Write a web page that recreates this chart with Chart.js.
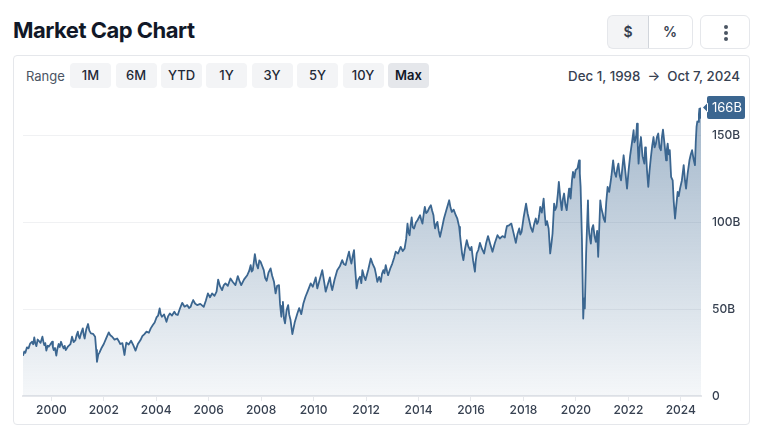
<!DOCTYPE html>
<html>
<head>
<meta charset="utf-8">
<title>Market Cap Chart</title>
<script src="https://cdn.jsdelivr.net/npm/chart.js@4"></script>
<style>
    html, body { margin: 0; padding: 0; background: #fff; }
    body { width: 760px; height: 445px; position: relative; overflow: hidden; font-family: Inter, sans-serif; color: #111827; }
    .abs { position: absolute; box-sizing: border-box; }
    h1 { position: absolute; left: 13px; top: 16px; margin: 0; font-size: 22px; line-height: 28px; font-weight: 700; letter-spacing: -0.5px; }
    .card { left: 13px; top: 55px; width: 737px; height: 370px; border: 1px solid #e5e7eb; border-radius: 4px; }
    .range-label { left: 26px; top: 68px; font-size: 13px; line-height: 16px; color: #4b5563; }
    .btn { top: 63px; height: 25px; width: 41px; border-radius: 4px; background: #f3f4f6; font-size: 13px; line-height: 25px; font-weight: 500; text-align: center; color: #1f2937; }
    .btn.on { background: #e5e7eb; color: #111827; font-weight: 600; }
    .dates { left: 540px; width: 200px; top: 68px; font-size: 13.3px; line-height: 16px; font-weight: 500; color: #374151; text-align: right; white-space: pre; }
    .toggle { top: 15px; height: 34px; border: 1px solid #e5e7eb; font-size: 14px; line-height: 32px; font-weight: 600; text-align: center; color: #374151; }
    #dollar { left: 607px; width: 42px; background: #f3f4f6; border-radius: 6px 0 0 6px; border-right-color: #d1d5db; }
    #percent { left: 648px; width: 45px; border-left: none; border-radius: 0 6px 6px 0; }
    #more { left: 700px; width: 50px; border-radius: 6px; }
    .dot { position: absolute; left: 23px; width: 4px; height: 4px; border-radius: 50%; background: #4b5563; }
    #chartWrap { position: absolute; left: 14px; top: 92px; width: 735px; height: 330px; }
</style>
</head>
<body>
<h1>Market Cap Chart</h1>
<div class="abs toggle" id="dollar">$</div>
<div class="abs toggle" id="percent">%</div>
<div class="abs toggle" id="more"><span class="dot" style="top:9px"></span><span class="dot" style="top:15px"></span><span class="dot" style="top:21px"></span></div>
<div class="abs card"></div>
<div class="abs range-label">Range</div>
<div id="rangeButtons"></div>
<div class="abs dates">Dec 1, 1998  →  Oct 7, 2024</div>
<div id="chartWrap"><canvas id="marketCap"></canvas></div>

<script>
// Values: decimal year, market cap in billions
const years = [
    1998.92, 1998.97, 1999.01, 1999.07, 1999.13, 1999.19, 1999.26, 1999.31, 1999.35, 1999.39, 1999.43, 1999.48, 1999.52, 1999.59, 1999.66, 1999.70, 1999.73, 1999.77, 1999.81, 1999.86, 1999.90, 1999.96,
    2000.03, 2000.06, 2000.09, 2000.14, 2000.19, 2000.23, 2000.28, 2000.32, 2000.37, 2000.42, 2000.47, 2000.51, 2000.55, 2000.64, 2000.73, 2000.76, 2000.79, 2000.85, 2000.92, 2000.96,
    2001.01, 2001.04, 2001.08, 2001.14, 2001.20, 2001.23, 2001.27, 2001.33, 2001.40, 2001.45, 2001.51, 2001.59, 2001.67, 2001.71, 2001.74, 2001.79, 2001.84, 2001.92,
    2002.00, 2002.09, 2002.19, 2002.25, 2002.32, 2002.41, 2002.51, 2002.57, 2002.63, 2002.71, 2002.79, 2002.83, 2002.86, 2002.95,
    2003.04, 2003.12, 2003.21, 2003.30, 2003.40, 2003.47, 2003.55, 2003.63, 2003.72, 2003.79, 2003.87, 2003.94,
    2004.01, 2004.07, 2004.13, 2004.17, 2004.22, 2004.30, 2004.39, 2004.45, 2004.52, 2004.60, 2004.69, 2004.75, 2004.82, 2004.90, 2004.99,
    2005.08, 2005.18, 2005.25, 2005.31, 2005.36, 2005.41, 2005.48, 2005.56, 2005.68, 2005.81, 2005.89, 2005.97,
    2006.05, 2006.13, 2006.22, 2006.30, 2006.36, 2006.43, 2006.51, 2006.57, 2006.64, 2006.73, 2006.83, 2006.92,
    2007.02, 2007.06, 2007.11, 2007.18, 2007.24, 2007.35, 2007.47, 2007.54, 2007.60, 2007.64, 2007.68, 2007.72, 2007.76, 2007.82, 2007.88, 2007.93, 2007.98,
    2008.04, 2008.10, 2008.15, 2008.21, 2008.28, 2008.36, 2008.42, 2008.49, 2008.55, 2008.61, 2008.68, 2008.72, 2008.77, 2008.80, 2008.83, 2008.87, 2008.91, 2008.97,
    2009.03, 2009.07, 2009.12, 2009.19, 2009.28, 2009.38, 2009.45, 2009.53, 2009.61, 2009.69, 2009.78, 2009.89, 2009.97,
    2010.08, 2010.14, 2010.24, 2010.33, 2010.40, 2010.46, 2010.54, 2010.62, 2010.67, 2010.71, 2010.80, 2010.90,
    2011.00, 2011.09, 2011.15, 2011.22, 2011.29, 2011.35, 2011.40, 2011.44, 2011.49, 2011.54, 2011.59, 2011.64, 2011.70, 2011.77, 2011.82, 2011.86, 2011.92, 2011.98,
    2012.08, 2012.18, 2012.25, 2012.33, 2012.38, 2012.43, 2012.50, 2012.56, 2012.61, 2012.66, 2012.70, 2012.75, 2012.80, 2012.84, 2012.92,
    2013.00, 2013.07, 2013.13, 2013.22, 2013.32, 2013.40, 2013.47, 2013.53, 2013.58, 2013.62, 2013.66, 2013.70, 2013.74, 2013.78, 2013.83, 2013.90, 2013.96,
    2014.06, 2014.10, 2014.15, 2014.20, 2014.24, 2014.29, 2014.34, 2014.40, 2014.47, 2014.52, 2014.57, 2014.60, 2014.63, 2014.68, 2014.72, 2014.77, 2014.82, 2014.90, 2014.97,
    2015.07, 2015.17, 2015.22, 2015.27, 2015.34, 2015.42, 2015.48, 2015.55, 2015.58, 2015.61, 2015.66, 2015.71, 2015.77, 2015.84, 2015.90, 2015.97,
    2016.02, 2016.08, 2016.15, 2016.18, 2016.22, 2016.28, 2016.34, 2016.42, 2016.50, 2016.57, 2016.65, 2016.73, 2016.82, 2016.91,
    2017.01, 2017.10, 2017.20, 2017.29, 2017.33, 2017.37, 2017.45, 2017.54, 2017.62, 2017.71, 2017.77, 2017.84, 2017.88, 2017.93, 2018.01,
    2018.10, 2018.16, 2018.22, 2018.28, 2018.35, 2018.41, 2018.47, 2018.52, 2018.56, 2018.60, 2018.64, 2018.70, 2018.77, 2018.81, 2018.85, 2018.90, 2018.96,
    2019.02, 2019.07, 2019.11, 2019.14, 2019.17, 2019.21, 2019.26, 2019.31, 2019.35, 2019.41, 2019.46, 2019.50, 2019.55, 2019.60, 2019.65, 2019.70, 2019.74, 2019.77, 2019.80, 2019.85, 2019.89, 2019.94, 2019.99,
    2020.06, 2020.12, 2020.15, 2020.18, 2020.23, 2020.28, 2020.31, 2020.34, 2020.39, 2020.46, 2020.48, 2020.51, 2020.57, 2020.61, 2020.66, 2020.71, 2020.76, 2020.81, 2020.85, 2020.93, 2020.97,
    2021.02, 2021.06, 2021.11, 2021.16, 2021.21, 2021.27, 2021.35, 2021.42, 2021.47, 2021.53, 2021.58, 2021.62, 2021.67, 2021.72, 2021.77, 2021.82, 2021.88, 2021.95, 2022.01,
    2022.07, 2022.14, 2022.20, 2022.23, 2022.26, 2022.30, 2022.33, 2022.36, 2022.39, 2022.43, 2022.48, 2022.54, 2022.61, 2022.64, 2022.67, 2022.71, 2022.76, 2022.81, 2022.86, 2022.91, 2022.96,
    2023.00, 2023.05, 2023.09, 2023.14, 2023.19, 2023.24, 2023.28, 2023.32, 2023.38, 2023.44, 2023.47, 2023.50, 2023.54, 2023.58, 2023.63, 2023.69, 2023.73, 2023.78, 2023.83, 2023.88, 2023.92, 2023.97,
    2024.04, 2024.11, 2024.16, 2024.20, 2024.26, 2024.33, 2024.38, 2024.43, 2024.49, 2024.54, 2024.57, 2024.60, 2024.63, 2024.66, 2024.69, 2024.71, 2024.74, 2024.77
];
const marketCap = [
    23.2, 25.6, 24.9, 28.0, 27.4, 30.1, 31.2, 29.8, 33.7, 30.2, 28.7, 32.5, 31.8, 30.6, 34.1, 31.0, 29.3, 30.4, 26.1, 28.9, 28.4, 29.6,
    31.2, 28.0, 26.4, 27.6, 23.2, 27.1, 29.9, 28.2, 31.2, 29.0, 27.4, 28.8, 26.4, 28.6, 29.9, 31.9, 34.1, 31.0, 32.2, 34.9,
    37.0, 34.3, 33.1, 36.4, 38.9, 35.6, 33.1, 38.2, 41.4, 37.6, 36.0, 35.8, 34.1, 26.5, 19.7, 23.8, 25.1, 27.8,
    29.9, 33.2, 36.6, 34.9, 34.1, 32.4, 33.1, 31.6, 29.9, 30.4, 23.6, 28.0, 30.7, 29.6,
    31.8, 29.4, 26.1, 29.9, 32.2, 34.4, 35.6, 37.0, 36.4, 38.9, 40.8, 42.3,
    45.2, 46.2, 50.4, 47.0, 45.6, 46.9, 42.7, 45.8, 47.5, 46.3, 48.5, 47.0, 46.6, 50.2, 53.6,
    51.4, 52.3, 50.6, 51.3, 53.5, 55.2, 53.2, 52.3, 53.0, 51.3, 54.8, 59.0,
    56.8, 59.0, 57.6, 60.0, 67.0, 63.2, 60.9, 63.6, 64.8, 63.4, 67.6, 65.6,
    63.8, 66.2, 69.0, 65.9, 63.8, 67.1, 69.5, 71.8, 75.3, 71.6, 72.4, 76.9, 81.6, 76.0, 73.4, 78.0, 77.2,
    74.8, 72.4, 68.0, 66.3, 71.0, 73.4, 69.2, 65.7, 59.0, 63.4, 63.8, 53.0, 45.6, 52.0, 54.2, 44.5, 41.8, 49.4,
    52.3, 46.8, 43.7, 35.6, 42.4, 47.5, 50.6, 47.1, 53.2, 57.1, 60.5, 64.8, 62.8,
    68.2, 61.9, 67.4, 72.4, 66.0, 60.0, 64.2, 68.2, 63.4, 60.9, 67.0, 72.4,
    74.6, 78.2, 76.0, 75.3, 79.6, 83.0, 78.6, 76.2, 80.4, 83.9, 72.0, 61.9, 66.8, 68.6, 64.9, 72.4, 69.0, 66.7,
    72.5, 79.1, 76.0, 73.4, 69.8, 65.7, 68.5, 65.7, 70.4, 72.4, 70.6, 75.3, 71.8, 69.5, 73.2,
    76.2, 79.6, 83.0, 82.0, 85.8, 83.4, 84.9, 90.5, 99.2, 94.0, 92.5, 98.6, 102.7, 97.0, 96.4, 99.8, 101.1,
    104.0, 101.6, 99.2, 105.0, 108.8, 105.2, 105.9, 108.0, 109.8, 106.6, 104.0, 99.4, 96.4, 99.0, 100.2, 95.0, 91.6, 97.0, 102.1,
    107.5, 112.6, 108.4, 105.9, 107.2, 104.0, 102.0, 97.3, 93.0, 88.7, 82.0, 78.2, 84.5, 89.7, 86.0, 83.9,
    85.8, 78.0, 71.5, 77.5, 82.0, 84.0, 88.1, 84.6, 82.0, 87.4, 92.0, 87.6, 83.0, 88.0,
    92.5, 90.6, 92.0, 91.2, 94.8, 97.7, 98.2, 99.2, 94.0, 88.1, 93.0, 96.4, 92.8, 94.4, 103.0,
    110.7, 105.0, 101.1, 97.0, 94.4, 99.0, 102.1, 99.0, 100.2, 104.0, 108.8, 105.5, 113.6, 105.0, 98.3, 100.6, 96.4,
    82.0, 88.0, 93.5, 102.0, 110.7, 107.0, 108.8, 116.0, 123.2, 113.0, 106.9, 113.0, 116.5, 110.0, 106.9, 114.0, 119.3, 115.0, 113.6, 124.0, 128.9, 125.6, 129.9,
    131.0, 135.6, 128.0, 120.3, 90.6, 44.6, 56.0, 50.4, 82.0, 112.6, 100.0, 93.5, 87.7, 96.0, 98.3, 92.0, 88.7, 95.0, 80.1, 112.6, 108.0,
    105.0, 102.0, 100.2, 112.0, 120.3, 117.4, 126.0, 135.6, 129.0, 126.1, 131.0, 133.7, 127.0, 124.1, 131.0, 138.5, 130.0, 119.3, 130.0,
    138.5, 146.0, 152.9, 146.0, 147.1, 150.0, 156.7, 144.0, 133.7, 143.0, 149.0, 138.0, 133.7, 143.0, 141.4, 130.0, 120.3, 130.0, 137.5, 144.0, 149.0,
    143.0, 145.2, 149.0, 151.0, 143.0, 141.4, 149.0, 153.3, 145.0, 135.6, 142.0, 145.2, 139.0, 141.4, 126.1, 124.1, 112.0, 102.1, 110.0, 117.4, 115.0, 119.3,
    124.0, 132.8, 124.0, 119.3, 128.0, 135.6, 139.0, 141.4, 136.0, 132.8, 146.0, 154.8, 158.0, 157.7, 162.0, 165.3, 160.0, 166.0
];
const yearTicks = [2000, 2002, 2004, 2006, 2008, 2010, 2012, 2014, 2016, 2018, 2020, 2022, 2024];
const capTicks = [0, 50, 100, 150];
const rangeLabels = ['1M', '6M', 'YTD', '1Y', '3Y', '5Y', '10Y', 'Max'];

const LINE_COLOR = '#3b6690';
const GRID_COLOR = '#f0f1f3';
const AXIS_COLOR = '#e5e7eb';
const LABEL_COLOR = '#374151';

// Range buttons
const rangeLefts = [70, 115.5, 161, 206, 251.5, 297, 342.5, 388];
rangeLabels.forEach((label, i) => {
    const el = document.createElement('div');
    el.className = 'abs btn' + (label === 'Max' ? ' on' : '');
    el.style.left = rangeLefts[i] + 'px';
    el.textContent = label;
    document.getElementById('rangeButtons').appendChild(el);
});

// Flag with the latest value, to the right of the last point
const lastValueTag = {
    id: 'lastValueTag',
    afterDraw(chart) {
        const { ctx, scales } = chart;
        const value = marketCap[marketCap.length - 1];
        const py = scales.y.getPixelForValue(value);
        const left = scales.x.right + 6;
        ctx.save();
        ctx.fillStyle = LINE_COLOR;
        ctx.beginPath();
        ctx.roundRect(left, py - 11.5, 38, 23, 2);
        ctx.moveTo(left + 1, py - 5);
        ctx.lineTo(left - 4, py);
        ctx.lineTo(left + 1, py + 5);
        ctx.fill();
        ctx.fillStyle = '#fff';
        ctx.font = '400 13px Inter';
        ctx.textBaseline = 'middle';
        ctx.fillText(Math.round(value) + 'B', left + 5, py + 0.5);
        ctx.restore();
    }
};

new Chart(document.getElementById('marketCap'), {
    type: 'line',
    data: {
        datasets: [{
            data: years.map((year, i) => ({ x: year, y: marketCap[i] })),
            borderColor: LINE_COLOR,
            borderWidth: 1.8,
            borderJoinStyle: 'round',
            pointRadius: 0,
            tension: 0,
            fill: 'origin',
            backgroundColor(context) {
                const area = context.chart.chartArea;
                if (!area) return 'transparent';
                const gradient = context.chart.ctx.createLinearGradient(0, area.top, 0, area.bottom);
                gradient.addColorStop(0, 'rgba(59, 102, 144, 0.48)');
                gradient.addColorStop(1, 'rgba(59, 102, 144, 0.05)');
                return gradient;
            }
        }]
    },
    options: {
        responsive: true,
        maintainAspectRatio: false,
        animation: false,
        layout: { padding: { left: 9, top: 12, right: 0, bottom: 0 } },
        plugins: { legend: { display: false }, tooltip: { enabled: false } },
        scales: {
            x: {
                type: 'linear',
                min: 1998.92,
                max: 2024.77,
                afterBuildTicks(axis) { axis.ticks = yearTicks.map(value => ({ value })); },
                afterFit(axis) { axis.height = 26; },
                grid: { drawOnChartArea: false, color: AXIS_COLOR, tickLength: 5 },
                border: { color: AXIS_COLOR, width: 2 },
                ticks: {
                    color: LABEL_COLOR,
                    padding: 2,
                    maxRotation: 0,
                    autoSkip: false,
                    font: { family: 'Inter', size: 12, weight: '500' },
                    callback: value => String(value)
                }
            },
            y: {
                position: 'right',
                min: 0,
                max: 168,
                afterBuildTicks(axis) { axis.ticks = capTicks.map(value => ({ value })); },
                afterFit(axis) { axis.width = 48; },
                // the tick mark is only there to push the labels off the plot
                grid: { color: GRID_COLOR, tickColor: 'transparent', tickLength: 11 },
                border: { display: false },
                ticks: {
                    color: LABEL_COLOR,
                    padding: 0,
                    autoSkip: false,
                    font: { family: 'Inter', size: 12, weight: '500' },
                    callback: value => value === 0 ? '0' : value + 'B'
                }
            }
        }
    },
    plugins: [lastValueTag]
});
</script>
</body>
</html>
